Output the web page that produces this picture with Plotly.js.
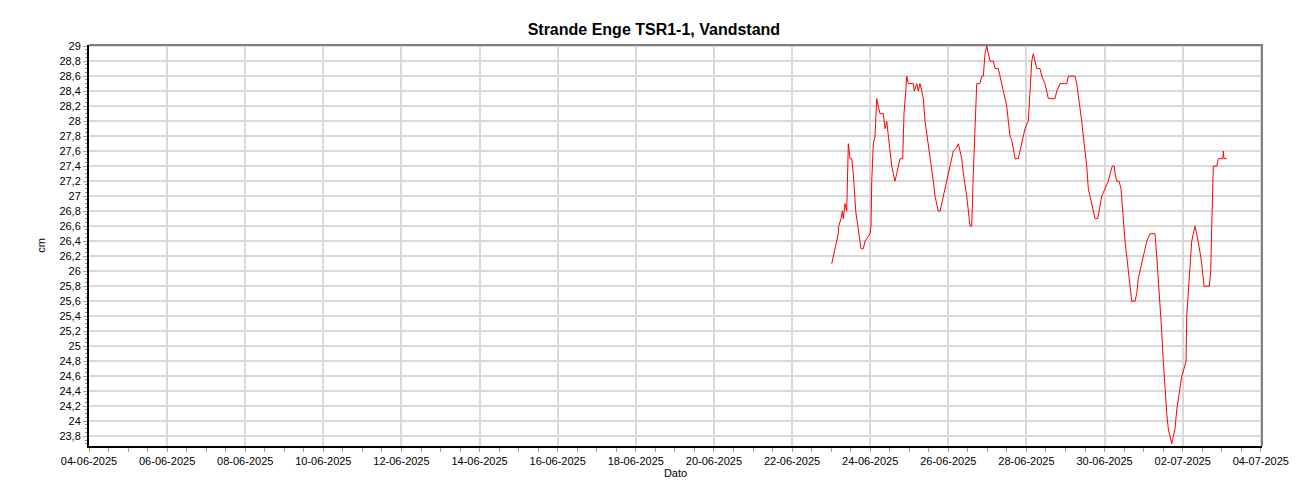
<!DOCTYPE html>
<html>
<head>
<meta charset="utf-8">
<script src="https://cdn.plot.ly/plotly-3.0.1.min.js"></script>
<style>
  html, body { margin: 0; padding: 0; background: #ffffff; }
  #chart { width: 1300px; height: 500px; }
</style>
</head>
<body>
<div id="chart"></div>
<script>
const chartTitle = 'Strande Enge TSR1-1, Vandstand';
const xTitle = 'Dato';
const yTitle = 'cm';

const times = [
  '2025-06-23 00:22','2025-06-23 02:24','2025-06-23 04:25','2025-06-23 04:40','2025-06-23 06:05','2025-06-23 06:53','2025-06-23 07:30','2025-06-23 08:32','2025-06-23 09:35','2025-06-23 10:34',
  '2025-06-23 11:37','2025-06-23 12:39','2025-06-23 13:38','2025-06-23 15:07','2025-06-23 16:21','2025-06-23 17:20','2025-06-23 18:22','2025-06-23 19:47','2025-06-23 20:50','2025-06-23 23:54',
  '2025-06-24 00:31','2025-06-24 00:57','2025-06-24 01:56','2025-06-24 02:58','2025-06-24 04:01','2025-06-24 05:00','2025-06-24 06:03','2025-06-24 08:04','2025-06-24 09:07','2025-06-24 10:10',
  '2025-06-24 11:09','2025-06-24 12:11','2025-06-24 13:14','2025-06-24 14:13','2025-06-24 15:16','2025-06-24 16:18','2025-06-24 17:17','2025-06-24 18:20','2025-06-24 19:59','2025-06-24 20:47',
  '2025-06-24 21:50','2025-06-24 22:27','2025-06-24 23:26','2025-06-25 02:31','2025-06-25 03:07','2025-06-25 04:36','2025-06-25 05:35','2025-06-25 06:37','2025-06-25 07:40','2025-06-25 08:39',
  '2025-06-25 09:42','2025-06-25 11:43','2025-06-25 13:49','2025-06-25 14:48','2025-06-25 15:50','2025-06-25 16:53','2025-06-25 17:52','2025-06-25 18:55','2025-06-25 19:58','2025-06-25 20:56',
  '2025-06-25 23:02','2025-06-26 01:04','2025-06-26 03:05','2025-06-26 05:10','2025-06-26 06:10','2025-06-26 07:12','2025-06-26 08:15','2025-06-26 09:14','2025-06-26 11:19','2025-06-26 13:21',
  '2025-06-26 14:23','2025-06-26 15:22','2025-06-26 16:25','2025-06-26 17:28','2025-06-26 19:29','2025-06-26 20:32','2025-06-26 21:31','2025-06-26 22:34','2025-06-26 23:37','2025-06-27 00:35',
  '2025-06-27 01:38','2025-06-27 03:40','2025-06-27 04:43','2025-06-27 06:44','2025-06-27 07:47','2025-06-27 08:49','2025-06-27 09:49','2025-06-27 10:51','2025-06-27 11:54','2025-06-27 12:53',
  '2025-06-27 13:55','2025-06-27 14:58','2025-06-27 15:57','2025-06-27 17:00','2025-06-27 19:01','2025-06-27 20:04','2025-06-27 21:07','2025-06-27 22:05','2025-06-27 23:08','2025-06-28 01:10',
  '2025-06-28 02:13','2025-06-28 03:16','2025-06-28 04:14','2025-06-28 05:17','2025-06-28 06:20','2025-06-28 08:22','2025-06-28 09:24','2025-06-28 11:26','2025-06-28 12:28','2025-06-28 13:28',
  '2025-06-28 17:34','2025-06-28 18:37','2025-06-28 20:39','2025-06-29 00:46','2025-06-29 01:45','2025-06-29 05:52','2025-06-29 06:55','2025-06-29 08:56','2025-06-29 09:59','2025-06-29 10:58',
  '2025-06-29 12:01','2025-06-29 13:03','2025-06-29 14:02','2025-06-29 15:05','2025-06-29 16:07','2025-06-29 17:07','2025-06-29 18:09','2025-06-29 19:49','2025-06-29 20:37','2025-06-29 22:16',
  '2025-06-30 00:18','2025-06-30 02:19','2025-06-30 03:22','2025-06-30 04:47','2025-06-30 06:01','2025-06-30 06:26','2025-06-30 07:29','2025-06-30 08:54','2025-06-30 10:08','2025-06-30 10:44',
  '2025-06-30 11:32','2025-06-30 12:35','2025-06-30 13:38','2025-06-30 14:37','2025-06-30 15:39','2025-06-30 16:42','2025-06-30 18:44','2025-06-30 19:46','2025-06-30 20:45','2025-06-30 21:48',
  '2025-06-30 22:51','2025-06-30 23:50','2025-07-01 00:52','2025-07-01 01:55','2025-07-01 03:57','2025-07-01 07:01','2025-07-01 08:04','2025-07-01 10:05','2025-07-01 11:08','2025-07-01 12:07',
  '2025-07-01 13:10','2025-07-01 14:13','2025-07-01 15:11','2025-07-01 16:14','2025-07-01 17:17','2025-07-01 18:16','2025-07-01 19:19','2025-07-01 20:21','2025-07-01 21:20','2025-07-01 22:23',
  '2025-07-01 23:26','2025-07-02 00:50','2025-07-02 02:04','2025-07-02 02:30','2025-07-02 03:29','2025-07-02 04:32','2025-07-02 05:34','2025-07-02 06:33','2025-07-02 07:36','2025-07-02 08:38',
  '2025-07-02 09:38','2025-07-02 10:40','2025-07-02 11:43','2025-07-02 13:08','2025-07-02 16:23','2025-07-02 17:14','2025-07-02 17:52','2025-07-02 18:50','2025-07-02 20:56','2025-07-02 21:55',
  '2025-07-03 00:37','2025-07-03 00:59','2025-07-03 01:25','2025-07-03 03:04'
];

const levels = [
  26.1, 26.3, 26.5, 26.6, 26.7, 26.8, 26.7, 26.9, 26.8, 27.7,
  27.5, 27.5, 27.3, 26.8, 26.6, 26.4, 26.3, 26.3, 26.4, 26.5,
  26.6, 27.2, 27.7, 27.8, 28.3, 28.2, 28.1, 28.1, 27.9, 28.0,
  27.8, 27.65, 27.4, 27.3, 27.2, 27.3, 27.4, 27.5, 27.5, 28.1,
  28.4, 28.6, 28.5, 28.5, 28.4, 28.5, 28.4, 28.5, 28.4, 28.3,
  28.0, 27.7, 27.4, 27.2, 27.0, 26.9, 26.8, 26.8, 26.9, 27.0,
  27.2, 27.4, 27.6, 27.65, 27.7, 27.6, 27.5, 27.3, 27.0, 26.6,
  26.6, 27.3, 27.8, 28.5, 28.5, 28.6, 28.6, 28.9, 29.0, 28.9,
  28.8, 28.8, 28.7, 28.7, 28.6, 28.5, 28.4, 28.3, 28.2, 28.0,
  27.8, 27.75, 27.6, 27.5, 27.5, 27.6, 27.7, 27.8, 27.9, 28.0,
  28.4, 28.8, 28.9, 28.8, 28.7, 28.7, 28.6, 28.5, 28.4, 28.3,
  28.3, 28.4, 28.5, 28.5, 28.6, 28.6, 28.5, 28.2, 28.0, 27.8,
  27.6, 27.4, 27.1, 27.0, 26.9, 26.8, 26.7, 26.7, 26.8, 27.0,
  27.1, 27.2, 27.3, 27.4, 27.4, 27.3, 27.2, 27.2, 27.1, 26.9,
  26.6, 26.4, 26.2, 26.0, 25.8, 25.6, 25.6, 25.7, 25.9, 26.0,
  26.1, 26.2, 26.3, 26.4, 26.5, 26.5, 26.2, 25.6, 25.2, 24.8,
  24.4, 24.1, 23.9, 23.8, 23.7, 23.8, 23.9, 24.15, 24.3, 24.45,
  24.6, 24.7, 24.8, 25.4, 25.7, 26.1, 26.4, 26.5, 26.6, 26.5,
  26.4, 26.25, 26.1, 25.8, 25.8, 26.0, 26.6, 27.4, 27.4, 27.5,
  27.5, 27.6, 27.5, 27.5
];

const yTickValues = [23.8, 24, 24.2, 24.4, 24.6, 24.8, 25, 25.2, 25.4, 25.6, 25.8, 26, 26.2, 26.4, 26.6, 26.8, 27, 27.2, 27.4, 27.6, 27.8, 28, 28.2, 28.4, 28.6, 28.8, 29];
const yTickLabels = ['23,8','24','24,2','24,4','24,6','24,8','25','25,2','25,4','25,6','25,8','26','26,2','26,4','26,6','26,8','27','27,2','27,4','27,6','27,8','28','28,2','28,4','28,6','28,8','29'];

const xStart = '2025-06-04 00:00';
const xEnd = '2025-07-04 00:45';

const FONT = '"Liberation Sans", Arial, sans-serif';

const trace = {
  type: 'scatter',
  mode: 'lines',
  x: times,
  y: levels,
  line: { color: '#ff0000', width: 1 },
  hoverinfo: 'x+y'
};

const layout = {
  width: 1300,
  height: 500,
  margin: { l: 89, r: 38, t: 45, b: 54, pad: 0 },
  paper_bgcolor: '#ffffff',
  plot_bgcolor: '#ffffff',
  showlegend: false,
  font: { family: FONT, size: 11, color: '#000000' },
  title: {
    text: '<b>' + chartTitle + '</b>',
    font: { family: FONT, size: 16, color: '#000000' },
    x: 0.503, xref: 'container', xanchor: 'center',
    y: 0.942, yref: 'container', yanchor: 'middle'
  },
  xaxis: {
    type: 'date',
    range: [xStart, xEnd],
    tick0: xStart,
    dtick: 2 * 86400000,
    tickformat: '%d-%m-%Y',
    ticks: 'outside',
    ticklen: 4,
    tickwidth: 1,
    tickcolor: '#a0a0a0',
    showgrid: true,
    gridcolor: '#d9d9d9',
    gridwidth: 2,
    showline: true,
    linecolor: '#000000',
    linewidth: 2,
    zeroline: false,
    tickfont: { family: FONT, size: 11, color: '#000000' },
    minor: { dtick: 43200000, tick0: xStart, ticks: 'outside', ticklen: 4, tickcolor: '#a0a0a0', showgrid: false },
    title: { text: xTitle, font: { family: FONT, size: 11, color: '#000000' }, standoff: 2 },
    automargin: false
  },
  yaxis: {
    range: [23.67, 29.015],
    tickmode: 'array',
    tickvals: yTickValues,
    ticktext: yTickLabels,
    ticks: 'outside',
    ticklen: 4,
    tickwidth: 1,
    tickcolor: '#a0a0a0',
    showgrid: true,
    gridcolor: '#d9d9d9',
    gridwidth: 2,
    showline: true,
    linecolor: '#000000',
    linewidth: 2,
    zeroline: false,
    tickfont: { family: FONT, size: 11, color: '#000000' },
    minor: { dtick: 0.05, tick0: 23.8, ticks: 'outside', ticklen: 2, tickcolor: '#909090', showgrid: false },
    title: { text: yTitle, font: { family: FONT, size: 11, color: '#000000' }, standoff: 12 },
    automargin: false
  },
  shapes: [
    {
      type: 'path', xref: 'paper', yref: 'paper',
      path: 'M 0 1 L 1 1 L 1 0',
      line: { color: '#808080', width: 2 },
      layer: 'above'
    }
  ]
};

Plotly.newPlot('chart', [trace], layout, { displayModeBar: false, responsive: false, staticPlot: true });
</script>
</body>
</html>
